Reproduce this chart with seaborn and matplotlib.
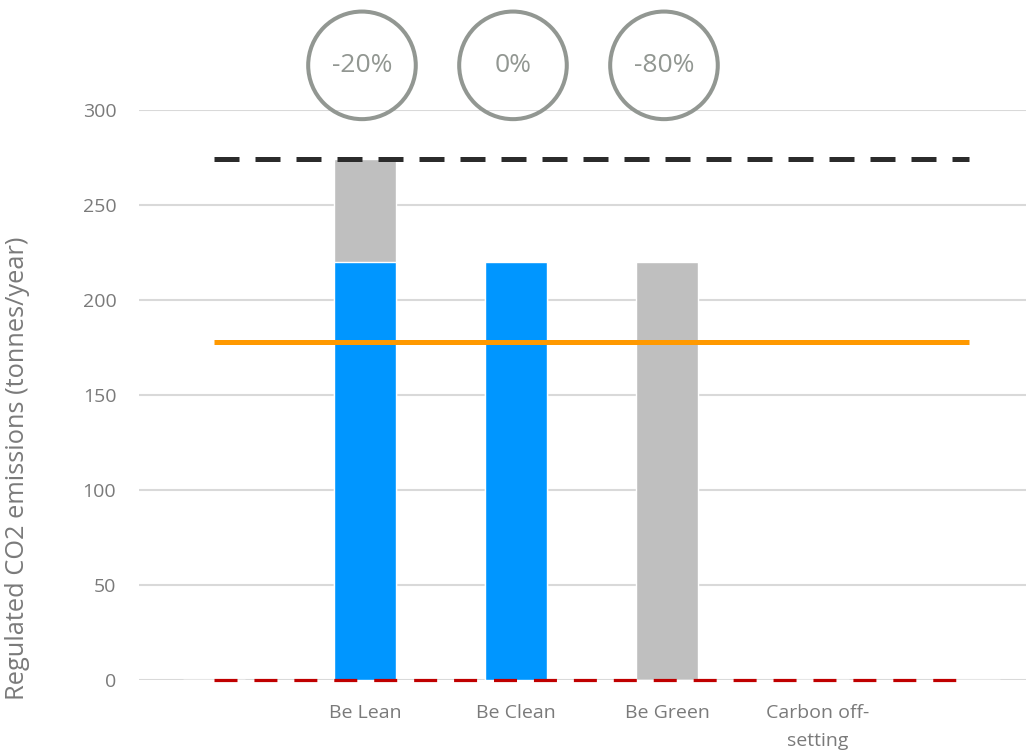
import matplotlib
matplotlib.use("Agg")
import matplotlib.pyplot as plt
import seaborn as sns
import pandas as pd
import numpy as np

# ---- data ----
categories = ["", "Be Lean", "Be Clean", "Be Green", "Carbon off-\nsetting", " "]
blue_values = [0, 220, 220, 0, 0, 0]        # remaining regulated emissions
gray_values = [0, 54, 0, 220, 0, 0]         # savings stacked on top
baseline = 274      # black dashed
target = 178        # orange line
zero_line = 0       # red dashed
reductions = ["-20%", "0%", "-80%"]
reduction_cats = ["Be Lean", "Be Clean", "Be Green"]
yticks = [0, 50, 100, 150, 200, 250, 300]

sns.set_theme(style="white")
plt.rcParams["font.family"] = ["Open Sans", "DejaVu Sans"]

fig = plt.figure(figsize=(10.26, 7.56), dpi=100)
ax = fig.add_axes([138.5 / 1026, 76 / 756, (1026 - 138.5) / 1026, 570 / 756])

totals = [b + g for b, g in zip(blue_values, gray_values)]
df = pd.DataFrame({"cat": categories, "blue": blue_values, "total": totals})

sns.barplot(data=df, x="cat", y="total", order=categories, color="#BFBFBF",
            width=0.41, saturation=1, ax=ax, zorder=2)
sns.barplot(data=df, x="cat", y="blue", order=categories, color="#0096FF",
            width=0.41, saturation=1, ax=ax, zorder=3)

n = len(categories)
ax.plot([0, n - 1], [baseline, baseline], color="#2B2B2B", lw=3.6,
        dashes=(5.0, 3.2), zorder=4, dash_capstyle="butt")
ax.plot([0, n - 1], [zero_line, zero_line], color="#C00000", lw=2.3,
        dashes=(7.2, 5.3), zorder=4, dash_capstyle="butt", clip_on=False)
ax.plot([0, n - 1], [target, target], color="#FF9900", lw=3.6, zorder=4,
        solid_capstyle="butt")

# circles with reduction percentages
for cat, txt in zip(reduction_cats, reductions):
    xi = categories.index(cat)
    ax.scatter([xi - 0.02], [323.5], s=6000, facecolor="none", edgecolor="#929792",
               linewidth=2.9, clip_on=False, zorder=5)
    ax.text(xi - 0.02, 323.5, txt, ha="center", va="center", fontsize=19,
            color="#929792", clip_on=False)

ax.set_xlim(-0.5, (1026 - 138.5) / 151 - 0.5)
ax.set_ylim(0, 300)
ax.set_yticks(yticks)
ax.set_yticklabels([str(v) for v in yticks])
ax.yaxis.grid(True, color="#D9D9D9", lw=1.5, zorder=0)
ax.set_axisbelow(True)
ax.tick_params(axis="y", length=0, pad=16, labelsize=14, labelcolor="#7A7A7A")
ax.tick_params(axis="x", length=0, pad=17, labelsize=14, labelcolor="#7A7A7A")
ax.set_xlabel("")
ax.set_ylabel("Regulated CO2 emissions (tonnes/year)", fontsize=18.3, color="#7A7A7A")
ax.yaxis.set_label_coords(-(138.5 - 30) / (1026 - 138.5), (680 - 468) / 570)
for s in ax.spines.values():
    s.set_visible(False)
for lbl in ax.get_xticklabels():
    lbl.set_linespacing(1.75)

fig.savefig("out.png", dpi=100)
